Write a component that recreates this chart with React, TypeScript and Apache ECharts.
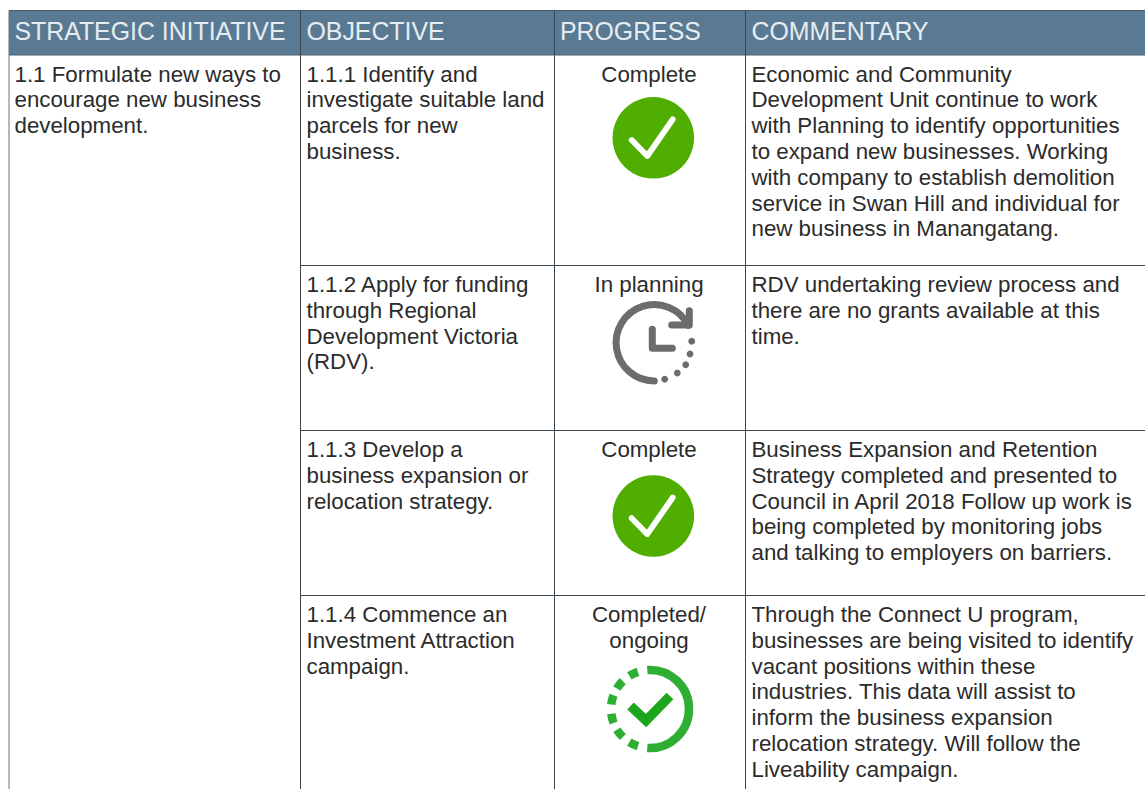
import React, { useEffect, useRef } from "react";
import * as echarts from "echarts";

const headers = ["STRATEGIC INITIATIVE", "OBJECTIVE", "PROGRESS", "COMMENTARY"];
const initiativeLines = ["1.1 Formulate new ways to", "encourage new business", "development."];
const objectiveLines = [
  ["1.1.1 Identify and", "investigate suitable land", "parcels for new", "business."],
  ["1.1.2 Apply for funding", "through Regional", "Development Victoria", "(RDV)."],
  ["1.1.3 Develop a", "business expansion or", "relocation strategy."],
  ["1.1.4 Commence an", "Investment Attraction", "campaign."],
];
const progressLines = [["Complete"], ["In planning"], ["Complete"], ["Completed/", "ongoing"]];
const commentaryLines = [
  ["Economic and Community", "Development Unit continue to work", "with Planning to identify opportunities", "to expand new businesses. Working", "with company to establish demolition", "service in Swan Hill and individual for", "new business in Manangatang."],
  ["RDV undertaking review process and", "there are no grants available at this", "time."],
  ["Business Expansion and Retention", "Strategy completed and presented to", "Council in April 2018 Follow up work is", "being completed by monitoring jobs", "and talking to employers on barriers."],
  ["Through the Connect U program,", "businesses are being visited to identify", "vacant positions within these", "industries. This data will assist to", "inform the business expansion", "relocation strategy. Will follow the", "Liveability campaign."],
];

const W = 1145;
const H = 789;
const COL_X = [9, 300.5, 554.5, 745.5];
const TOP = 10.5;
const HEAD_BOTTOM = 55;
const ROW_Y = [55, 265.5, 430.5, 595.5];
const LINE_H = 25.8;
const FONT = '"Liberation Sans", Arial, sans-serif';
const TEXT_COLOR = "#2b2b2b";
const RULE = "#3a4650";
const PROGRESS_CX = 649;
const deg = (d: number) => (d * Math.PI) / 180;

function buildGraphics() {
  const els: any[] = [];
  els.push({ type: "rect", shape: { x: COL_X[0], y: TOP, width: W - COL_X[0], height: HEAD_BOTTOM - TOP }, style: { fill: "#5a7a93" } });

  const line = (x1: number, y1: number, x2: number, y2: number, stroke = RULE, lineWidth = 1) =>
    els.push({ type: "line", shape: { x1, y1, x2, y2 }, style: { stroke, lineWidth } });
  line(COL_X[0], TOP, W, TOP, "#4a5660", 1.2);
  line(COL_X[0], HEAD_BOTTOM, W, HEAD_BOTTOM, "#4a5f70", 1);
  line(COL_X[0], TOP, COL_X[0], H, "#6a7278", 1);
  COL_X.slice(1).forEach((x) => line(x, TOP, x, H, RULE, 1));
  ROW_Y.slice(1).forEach((y) => line(COL_X[1], y, W, y, RULE, 1));

  const text = (s: string, x: number, y: number, align = "left", fill = TEXT_COLOR, size = 22.3) =>
    els.push({ type: "text", x, y, style: { text: s, fill, font: `${size}px ${FONT}`, textAlign: align, textVerticalAlign: "middle" } });

  const heads = [14.5, 306.5, 560, 751.5];
  headers.forEach((h, i) => text(h, heads[i], 31, "left", "#e6edf2", 24.85));

  initiativeLines.forEach((s, i) => text(s, 14.5, 74 + i * LINE_H));
  ROW_Y.forEach((_, r) => {
    const y0 = ROW_Y[r] + 19;
    objectiveLines[r].forEach((s, i) => text(s, 306.5, y0 + i * LINE_H));
    progressLines[r].forEach((s, i) => text(s, PROGRESS_CX, y0 + i * LINE_H, "center"));
    commentaryLines[r].forEach((s, i) => text(s, 751.5, y0 + i * LINE_H));
  });

  const tick = (cy: number) => {
    els.push({ type: "circle", shape: { cx: 653.3, cy, r: 40.8 }, style: { fill: "#4fae00" } });
    els.push({
      type: "polyline",
      shape: { points: [[631.7, cy + 2.2], [647.3, cy + 18.2], [672.7, cy - 18.5]] },
      style: { stroke: "#ffffff", lineWidth: 5.8, fill: "none", lineCap: "round", lineJoin: "round" },
    });
  };
  tick(137.8);
  tick(516);

  const gray = "#6c6c6c";
  const grayStroke = { stroke: gray, lineWidth: 7, fill: "none", lineCap: "round", lineJoin: "round" };
  els.push({ type: "arc", shape: { cx: 654.3, cy: 342.7, r: 38.2, startAngle: deg(90), endAngle: deg(333), clockwise: true }, style: grayStroke });
  els.push({ type: "polyline", shape: { points: [[689.3, 310.7], [689.3, 325], [671.7, 325]] }, style: grayStroke });
  els.push({ type: "polyline", shape: { points: [[652.3, 329.3], [652.3, 348.3], [672.3, 348.3]] }, style: grayStroke });
  [[691.7, 341.3], [690, 354], [685.7, 364.7], [677.3, 373], [664.7, 379.3]].forEach(([cx, cy]) =>
    els.push({ type: "circle", shape: { cx, cy, r: 3.4 }, style: { fill: gray } })
  );

  const green = "#2fae34";
  const gc = { cx: 650, cy: 709, r: 39 };
  const greenStroke = { stroke: green, lineWidth: 8.5, fill: "none", lineCap: "butt" };
  els.push({ type: "arc", shape: { ...gc, startAngle: deg(-94), endAngle: deg(94), clockwise: true }, style: greenStroke });
  [245, 218.7, 193.5, 166, 141, 115].forEach((a) =>
    els.push({ type: "arc", shape: { ...gc, startAngle: deg(a - 7), endAngle: deg(a + 7), clockwise: true }, style: greenStroke })
  );
  els.push({ type: "polyline", shape: { points: [[630.5, 706], [646, 720.5], [670, 696]] }, style: { stroke: "#1ea51e", lineWidth: 9.5, fill: "none", lineCap: "butt", lineJoin: "miter" } });

  return els.map((e) => ({ ...e, silent: true }));
}

export default function App() {
  const ref = useRef<HTMLDivElement>(null);
  useEffect(() => {
    document.body.style.margin = "0";
    document.body.style.overflow = "hidden";
    const chart = echarts.init(ref.current!, undefined, { renderer: "svg" });
    chart.setOption({ animation: false, backgroundColor: "#ffffff", graphic: { elements: buildGraphics() } });
    return () => chart.dispose();
  }, []);
  return <div ref={ref} style={{ position: "absolute", left: 0, top: 0, width: W, height: H }} />;
}
